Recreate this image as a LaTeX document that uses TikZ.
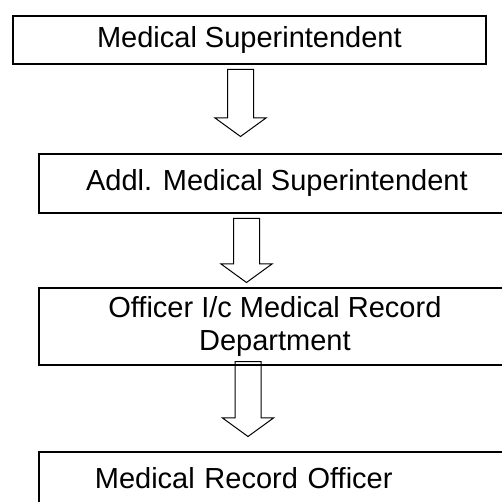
\documentclass[tikz,border=0pt]{standalone}
\usepackage{fontspec}
\setmainfont{Liberation Sans}
\usetikzlibrary{shapes.arrows}

\begin{document}
\begin{tikzpicture}[x=1pt,y=-1pt,line width=1.8pt,
  box/.style={draw,rectangle,anchor=north west,inner sep=0pt,align=center,
    font=\fontsize{29}{33.5}\selectfont},
  blockarrow/.style={draw,single arrow,rotate=-90,anchor=tail,line width=1pt,
    inner xsep=0pt,inner ysep=12.5pt,minimum width=50pt,single arrow head extend=12.5pt,
    single arrow tip angle=108}]
\useasboundingbox (0,0) rectangle (502,502);
\clip (0,0) rectangle (502,502);
% ---- boxes ----
\node[box,minimum width=473pt,minimum height=48pt] (ms) at (12,15)
  {Medical Superintendent};
\node[box,minimum width=476pt,minimum height=59pt] (ams) at (38,153)
  {Addl. Medical Superintendent};
\node[box,minimum width=472pt,minimum height=77pt] (oic) at (38,287)
  {Officer I/c Medical Record\\Department};
\node[box,align=left,text width=420pt,inner xsep=56pt,inner ysep=15.5pt] (mro) at (38,451)
  {Medical Record Officer};
% ---- arrows ----
\foreach \n/\x/\t/\len in {1/240.5/69/67,2/246.5/218/64,3/248/361/75}{
  \node[blockarrow,minimum height=\len pt] (arr\n) at (\x,\t) {};}
\end{tikzpicture}
\end{document}
